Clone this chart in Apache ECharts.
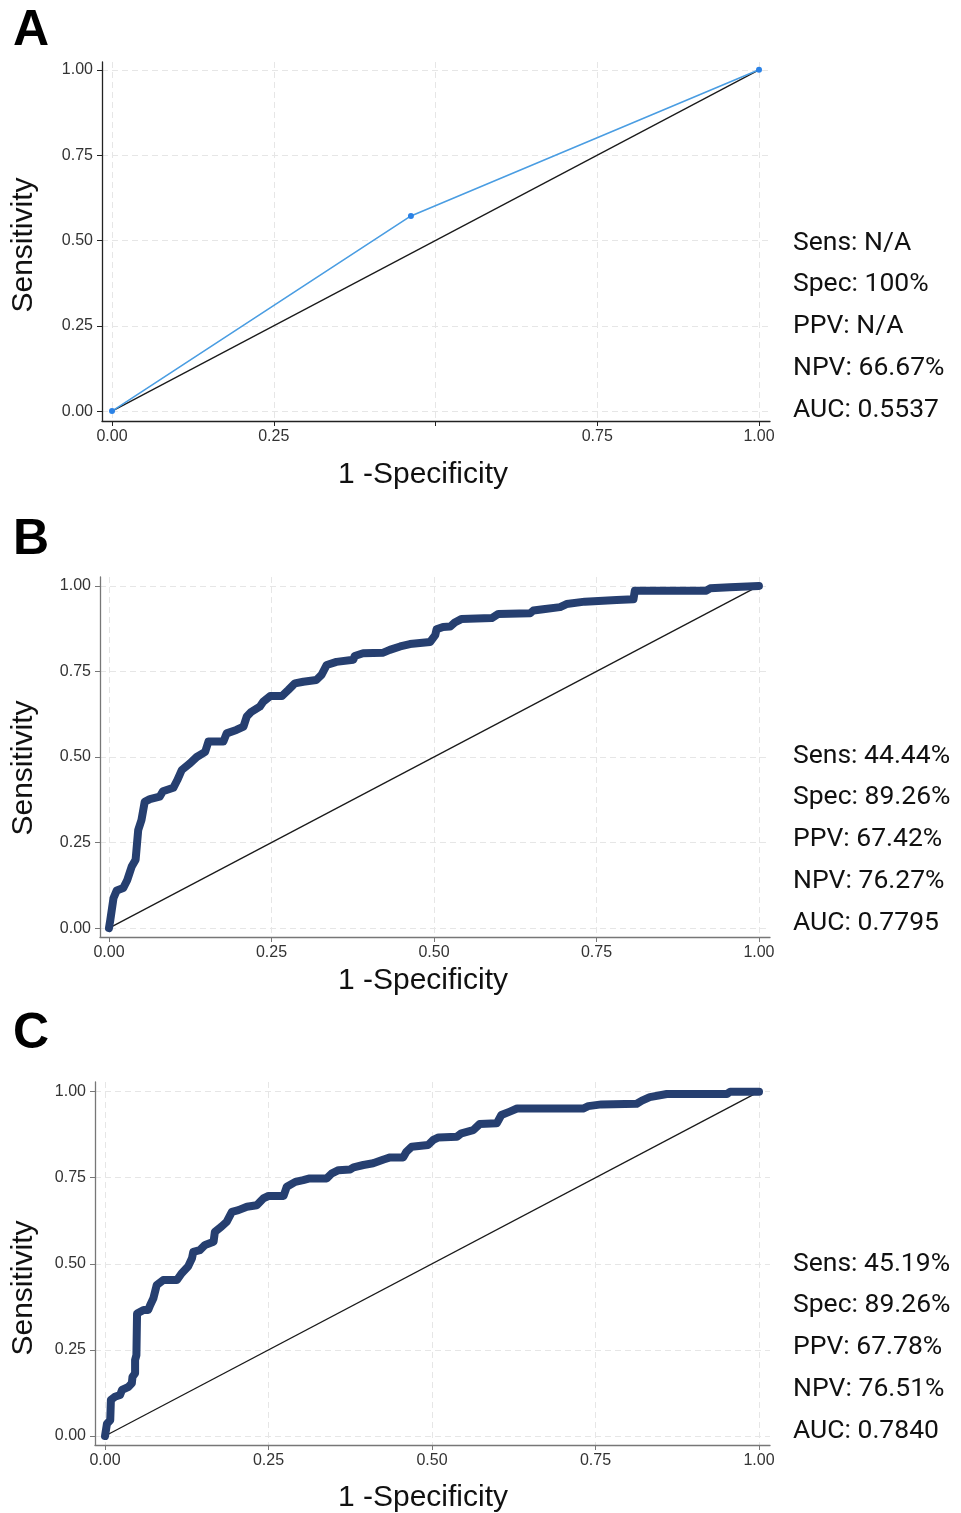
<!DOCTYPE html>
<html>
<head>
<meta charset="utf-8">
<script src="https://cdn.jsdelivr.net/npm/echarts@6/dist/echarts.min.js"></script>
<style>
  html, body { margin: 0; padding: 0; background: #fff; }
  #main { width: 961px; height: 1513px; }
</style>
</head>
<body>
<div id="main"></div>
<script>
// ---- data ----
const tickValues = [0, 0.25, 0.5, 0.75, 1];
const xLabelsA = [0, 0.25, 0.75, 1]; // 0.50 label missing in panel A

const rocA = [[0, 0], [0.462, 0.572], [1, 1]];

const rocB = [
  [0, 0], [0.002, 0.023], [0.007, 0.088], [0.012, 0.11], [0.022, 0.117], [0.028, 0.14],
  [0.035, 0.18], [0.041, 0.2], [0.045, 0.287], [0.05, 0.316], [0.055, 0.369], [0.063, 0.377],
  [0.078, 0.384], [0.083, 0.40], [0.099, 0.41], [0.105, 0.432], [0.112, 0.462], [0.125, 0.482],
  [0.135, 0.50], [0.148, 0.515], [0.153, 0.545], [0.176, 0.545], [0.181, 0.569], [0.196, 0.579],
  [0.207, 0.589], [0.212, 0.618], [0.219, 0.632], [0.232, 0.647], [0.237, 0.661], [0.248, 0.678],
  [0.266, 0.678], [0.276, 0.696], [0.286, 0.715], [0.299, 0.72], [0.319, 0.725], [0.327, 0.74],
  [0.335, 0.769], [0.35, 0.778], [0.376, 0.784], [0.378, 0.795], [0.391, 0.803], [0.422, 0.805],
  [0.432, 0.813], [0.448, 0.823], [0.463, 0.830], [0.494, 0.836], [0.502, 0.856], [0.504, 0.873],
  [0.514, 0.880], [0.525, 0.881], [0.532, 0.893], [0.542, 0.903], [0.589, 0.906], [0.599, 0.918],
  [0.648, 0.920], [0.653, 0.928], [0.668, 0.932], [0.694, 0.938], [0.704, 0.947], [0.732, 0.954],
  [0.781, 0.959], [0.807, 0.961], [0.809, 0.986], [0.919, 0.986], [0.925, 0.993], [0.955, 0.996],
  [0.958, 1.0], [1, 1]
];

const rocC = [
  [0, 0], [0.003, 0.036], [0.008, 0.046], [0.009, 0.105], [0.015, 0.114], [0.023, 0.119],
  [0.026, 0.134], [0.036, 0.143], [0.041, 0.153], [0.042, 0.172], [0.046, 0.182], [0.046, 0.221],
  [0.048, 0.235], [0.049, 0.356], [0.059, 0.366], [0.066, 0.366], [0.069, 0.380], [0.074, 0.400],
  [0.079, 0.438], [0.089, 0.453], [0.11, 0.453], [0.117, 0.472], [0.127, 0.492], [0.133, 0.516],
  [0.135, 0.535], [0.145, 0.540], [0.153, 0.555], [0.166, 0.564], [0.168, 0.593], [0.178, 0.608],
  [0.186, 0.622], [0.194, 0.651], [0.204, 0.656], [0.217, 0.666], [0.232, 0.670], [0.242, 0.690],
  [0.25, 0.697], [0.273, 0.697], [0.278, 0.724], [0.291, 0.738], [0.303, 0.743], [0.313, 0.748],
  [0.339, 0.748], [0.347, 0.763], [0.357, 0.772], [0.375, 0.774], [0.380, 0.780], [0.395, 0.787],
  [0.41, 0.792], [0.426, 0.803], [0.436, 0.809], [0.456, 0.809], [0.461, 0.826], [0.469, 0.840],
  [0.494, 0.845], [0.502, 0.860], [0.510, 0.867], [0.538, 0.869], [0.545, 0.879], [0.563, 0.888],
  [0.573, 0.906], [0.599, 0.908], [0.606, 0.932], [0.619, 0.942], [0.630, 0.951], [0.731, 0.951],
  [0.739, 0.958], [0.759, 0.963], [0.813, 0.965], [0.821, 0.974], [0.833, 0.984], [0.859, 0.993],
  [0.951, 0.993], [0.956, 1.0], [1, 1]
];

const diagonal = [[0, 0], [1, 1]];

const statsA = ['Sens: N/A', 'Spec: 100%', 'PPV: N/A', 'NPV: 66.67%', 'AUC: 0.5537'];
const statsB = ['Sens: 44.44%', 'Spec: 89.26%', 'PPV: 67.42%', 'NPV: 76.27%', 'AUC: 0.7795'];
const statsC = ['Sens: 45.19%', 'Spec: 89.26%', 'PPV: 67.78%', 'NPV: 76.51%', 'AUC: 0.7840'];

// ---- layout per panel ----
const panels = [
  { label: 'A', labelY: 31, left: 102, top: 62, right: 770, bottom: 421,
    xMin: -0.0155, xMax: 1.017, yMin: -0.029, yMax: 1.023, axisColor: '#222',
    xLabels: xLabelsA, stats: statsA, statsY: 243, yTitle: 245, xTitle: 475 },
  { label: 'B', labelY: 540, left: 100, top: 577, right: 770, bottom: 937,
    xMin: -0.0138, xMax: 1.017, yMin: -0.026, yMax: 1.026, axisColor: '#777',
    xLabels: tickValues, stats: statsB, statsY: 756, yTitle: 768, xTitle: 981 },
  { label: 'C', labelY: 1034, left: 95, top: 1082, right: 770, bottom: 1445,
    xMin: -0.0153, xMax: 1.0168, yMin: -0.026, yMax: 1.028, axisColor: '#777',
    xLabels: tickValues, stats: statsC, statsY: 1264, yTitle: 1288, xTitle: 1498 }
];

const chart = echarts.init(document.getElementById('main'));

const fmt = v => v.toFixed(2);
const gridLine = { show: true, lineStyle: { color: '#e6e6e6', type: [6, 4], width: 1 } };

const grids = [], xAxes = [], yAxes = [], series = [], graphics = [];

panels.forEach((p, i) => {
  grids.push({ left: p.left, top: p.top, width: p.right - p.left, height: p.bottom - p.top });
  xAxes.push({
    gridIndex: i, type: 'value', min: p.xMin, max: p.xMax,
    axisLine: { show: true, onZero: false, lineStyle: { color: p.axisColor, width: 1.3 } },
    axisTick: { show: true, length: 5, customValues: tickValues, lineStyle: { color: p.axisColor } },
    axisLabel: { customValues: p.xLabels, formatter: fmt, color: '#333', fontSize: 16,
      fontFamily: 'Liberation Sans', margin: 8 },
    splitLine: gridLine
  });
  yAxes.push({
    gridIndex: i, type: 'value', min: p.yMin, max: p.yMax,
    axisLine: { show: true, onZero: false, lineStyle: { color: p.axisColor, width: 1.3 } },
    axisTick: { show: true, length: 5, customValues: tickValues, lineStyle: { color: p.axisColor } },
    axisLabel: { customValues: tickValues, formatter: fmt, color: '#333', fontSize: 16,
      fontFamily: 'Liberation Sans', margin: 9 },
    splitLine: gridLine
  });

  series.push({
    type: 'line', xAxisIndex: i, yAxisIndex: i, data: diagonal, symbol: 'none',
    lineStyle: { color: '#1a1a1a', width: 1.3 }, silent: true, z: 3
  });

  if (i === 0) {
    series.push({
      type: 'line', xAxisIndex: i, yAxisIndex: i, data: rocA,
      symbol: 'circle', symbolSize: 6, showAllSymbol: true,
      itemStyle: { color: '#2b82e6' },
      lineStyle: { color: '#4a9de2', width: 1.6 }, z: 4
    });
  } else {
    series.push({
      type: 'line', xAxisIndex: i, yAxisIndex: i, data: i === 1 ? rocB : rocC,
      symbol: 'none',
      lineStyle: { color: '#263f70', width: 8, cap: 'round', join: 'round' }, z: 4
    });
  }

  graphics.push({
    type: 'text', left: 13, top: p.labelY - 25,
    style: { text: p.label, fontSize: 50, fontWeight: 'bold', fontFamily: 'Liberation Sans', fill: '#000' }
  });
  graphics.push({
    type: 'text', x: 24, y: p.yTitle, rotation: Math.PI / 2,
    style: { text: 'Sensitivity', fontSize: 30, fontFamily: 'Liberation Sans', fill: '#111',
      align: 'center', verticalAlign: 'middle' }
  });
  graphics.push({
    type: 'text', x: 423, y: p.xTitle,
    style: { text: '1 -Specificity', fontSize: 30, fontFamily: 'Liberation Sans', fill: '#111',
      align: 'center', verticalAlign: 'middle' }
  });
  p.stats.forEach((s, k) => {
    graphics.push({
      type: 'text', x: 793, y: p.statsY + k * 41.8,
      style: { text: s, fontSize: 26.5, fontFamily: 'Roboto', fill: '#111', verticalAlign: 'middle' }
    });
  });
});

chart.setOption({
  animation: false,
  grid: grids,
  xAxis: xAxes,
  yAxis: yAxes,
  series: series,
  graphic: graphics
});
</script>
</body>
</html>
